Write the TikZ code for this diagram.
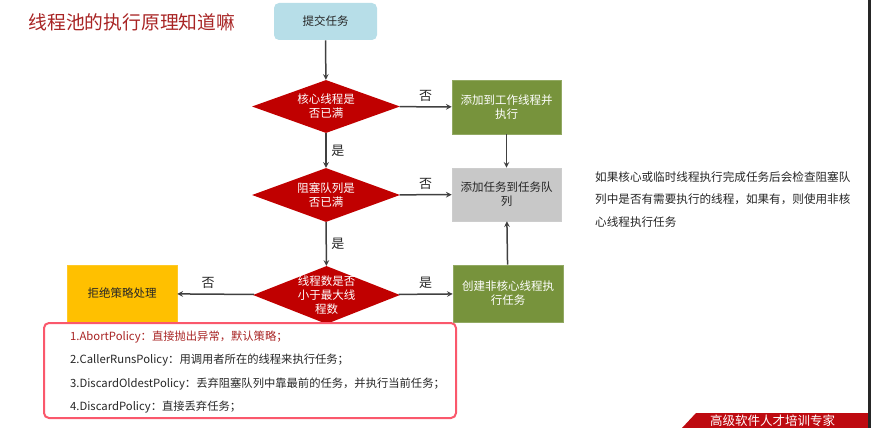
\documentclass[tikz,border=0pt]{standalone}
\usepackage{fontspec}
\setmainfont{Noto Sans CJK SC}
\usetikzlibrary{shapes.geometric}

\definecolor{titlered}{RGB}{168,36,36}
\definecolor{startblue}{RGB}{183,222,232}
\definecolor{diared}{RGB}{192,0,0}
\definecolor{boxgreen}{RGB}{119,147,60}
\definecolor{boxgrey}{RGB}{200,200,200}
\definecolor{boxyellow}{RGB}{255,192,0}
\definecolor{listpink}{RGB}{250,88,108}
\definecolor{linegrey}{RGB}{64,64,64}
\definecolor{textdark}{RGB}{38,38,38}
\definecolor{bannerred}{RGB}{190,10,16}

\begin{document}
\begin{tikzpicture}[x=1pt,y=-1pt,>=stealth,auto,
    box font/.style={font=\fontsize{11.5}{14}\selectfont},
    main node/.style={box font,rectangle,inner sep=2pt,align=center,line width=0.6pt},
    start box/.style={main node,rounded corners=5pt,fill=startblue,text=textdark,minimum width=103pt,minimum height=37pt},
    green box/.style={main node,draw=boxgreen!80!white,fill=boxgreen,text=white,minimum width=109pt,minimum height=54pt},
    grey box/.style={main node,draw=boxgrey!90!white,fill=boxgrey,text=textdark,minimum width=109pt,minimum height=53pt},
    yellow box/.style={main node,draw=boxyellow!85!white,fill=boxyellow,text=textdark,minimum width=110pt,minimum height=57pt},
    decision/.style={diamond,fill=diared,inner sep=0pt,minimum width=148pt},
    dia text/.style={box font,text=white,align=center,inner sep=0pt}]

    \useasboundingbox (0,0) rectangle (871,428);

    \node[anchor=west,text=titlered,font=\fontsize{18.8}{22}\selectfont] (title) at (25,22) {线程池的执行原理知道嘛};

    \node[start box] (1) at (325.5,21.5) {提交任务};
    \node[decision,minimum height=53pt,label={[dia text]center:{核心线程是\\否已满}}] (2) at (326,106.5) {};
    \node[green box] (3) at (506.5,107) {添加到工作线程并\\执行};
    \node[decision,minimum height=54pt,label={[dia text]center:{阻塞队列是\\否已满}}] (4) at (326,195) {};
    \node[grey box] (5) at (506.5,194.5) {添加任务到任务队\\列};
    \node[decision,minimum height=58pt,minimum width=147pt,label={[dia text]center:{线程数是否\\小于最大线\\程数}}] (6) at (326.5,295) {};
    \node[yellow box] (7) at (122,293.5) {拒绝策略处理};
    \node[green box,minimum width=110pt,minimum height=57pt] (8) at (508,293.5) {创建非核心线程执\\行任务};

    \path[->,line width=1.5pt,color=linegrey,every node/.style={text=textdark,font=\fontsize{13}{14}\selectfont,inner sep=4.5pt}]
        (1) edge (2)
        (2) edge node {否} (3)
        (2) edge node {是} (4)
        (4) edge node {否} (5)
        (3) edge (5)
        (4) edge node {是} (6)
        (6) edge node[swap,pos=0.6] {否} (7)
        (6) edge node {是} (8)
        (8) edge (5)
        ;

    % rejection policies
    \node[draw=listpink,line width=2pt,rounded corners=5pt,minimum width=412pt,minimum height=95pt] (9) at (250,370.5) {};
    \node[anchor=west,align=left,text=textdark,inner sep=0pt,font=\fontsize{11.3}{23.3}\selectfont] (10) at (70,372) {%
        \textcolor{titlered}{1.AbortPolicy：直接抛出异常，默认策略；}\\
        2.CallerRunsPolicy：用调用者所在的线程来执行任务；\\
        3.DiscardOldestPolicy：丢弃阻塞队列中靠最前的任务，并执行当前任务；\\
        4.DiscardPolicy：直接丢弃任务；};

    \node[anchor=west,align=left,text=textdark,inner sep=0pt,font=\fontsize{11.6}{22.5}\selectfont] (11) at (595,199.5) {%
        如果核心或临时线程执行完成任务后会检查阻塞队\\
        列中是否有需要执行的线程，如果有，则使用非核\\
        心线程执行任务};

    % banner and edge
    \begin{scope}
        \clip (0,0) rectangle (871,428);
        \fill[bannerred] (682,428) -- (696,413) -- (868,413) -- (868,428) -- cycle;
        \node[anchor=west,text=white,inner sep=0pt,font=\fontsize{12.5}{13}\selectfont] (12) at (710,421) {高级软件人才培训专家};
        \fill[black!85] (868,0) rectangle (871,428);
    \end{scope}
\end{tikzpicture}
\end{document}
